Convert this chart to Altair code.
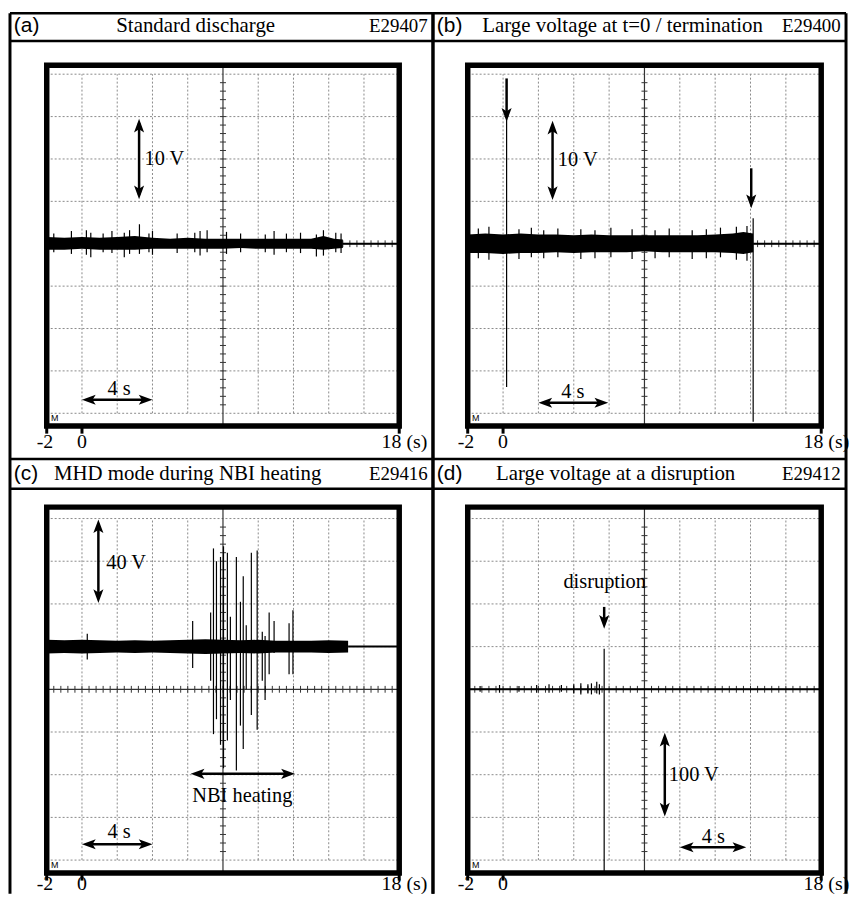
import altair as alt
import pandas as pd

SERIF = "Liberation Serif"
SANS = "Liberation Sans"

# ---------------- data: time in s, signal in V ----------------
# (a) Standard discharge, E29407, 5 V/div
A_VDIV = 5.0
A_BASE = 0.0
A_END = 14.8
A_BAND_T = [-2.0, -1.0, 0.0, 1.0, 2.0, 3.0, 4.0, 5.0, 6.0, 7.0, 8.0, 9.0, 10.0, 11.0, 12.0, 13.0, 13.7, 14.3, 14.8]
A_BAND_HI = [0.8, 0.7, 0.8, 0.7, 0.8, 0.9, 0.7, 0.6, 0.7, 0.6, 0.6, 0.6, 0.6, 0.6, 0.6, 0.6, 0.9, 0.6, 0.5]
A_BAND_LO = [-0.7, -0.7, -0.6, -0.7, -0.7, -0.7, -0.6, -0.6, -0.6, -0.6, -0.6, -0.5, -0.6, -0.6, -0.6, -0.6, -0.7, -0.6, -0.5]
A_SPK_T = [-1.6, -0.6, 0.25, 0.5, 1.2, 1.7, 2.4, 2.7, 3.26, 3.8, 4.0, 5.4, 6.4, 6.7, 7.1, 8.2, 9.0, 10.4, 10.9, 11.6, 12.4, 13.3, 13.7, 14.4, 14.7]
A_SPK_HI = [1.2, 1.5, 1.6, 1.3, 1.2, 1.5, 1.3, 1.6, 2.3, 1.2, 1.5, 1.2, 1.3, 1.5, 1.6, 1.4, 1.2, 1.1, 1.5, 1.2, 1.3, 1.1, 1.6, 1.3, 1.2]
A_SPK_LO = [-1.0, -1.2, -1.3, -1.6, -1.0, -1.1, -1.6, -1.2, -1.2, -1.0, -1.3, -1.1, -1.0, -1.4, -1.0, -1.2, -1.0, -1.0, -1.3, -1.0, -1.1, -1.5, -1.4, -1.0, -1.1]

# (b) Large voltage at t=0 / termination, E29400, 5 V/div
B_VDIV = 5.0
B_BASE = 0.0
B_END = 14.15
B_BAND_T = [-2.0, -1.0, 0.0, 1.0, 2.0, 3.0, 4.0, 5.0, 6.0, 7.0, 8.0, 9.0, 10.0, 11.0, 12.0, 13.0, 13.6, 14.15]
B_BAND_HI = [1.1, 1.2, 1.1, 1.2, 1.1, 1.1, 1.0, 1.1, 1.0, 1.0, 1.0, 1.0, 1.0, 1.0, 1.1, 1.2, 1.4, 1.2]
B_BAND_LO = [-1.1, -1.1, -1.2, -1.1, -1.1, -1.0, -1.1, -1.0, -1.0, -1.0, -0.9, -1.0, -1.0, -1.0, -1.0, -1.1, -1.2, -1.0]
B_SPK_T = [-1.4, -0.8, 0.2, 0.9, 1.6, 2.3, 3.1, 4.4, 5.2, 6.1, 7.3, 8.6, 9.4, 10.7, 11.5, 12.3, 13.2, 13.8, 14.15]
B_SPK_HI = [1.8, 2.0, 14.8, 1.7, 1.9, 1.6, 1.8, 1.7, 1.6, 1.9, 1.7, 1.6, 1.8, 1.6, 1.7, 1.9, 2.0, 2.1, 3.0]
B_SPK_LO = [-1.7, -1.9, -16.9, -1.8, -1.6, -1.7, -1.6, -1.8, -1.7, -1.6, -1.8, -1.7, -1.6, -1.8, -1.7, -1.6, -1.9, -2.0, -21.0]

# (c) MHD mode during NBI heating, E29416, 20 V/div (trace displayed 1 div up)
C_VDIV = 20.0
C_BASE = 20.0
C_END = 15.1
C_BAND_T = [-2.0, -1.0, 0.0, 1.0, 2.0, 3.0, 4.0, 5.0, 6.0, 7.0, 8.0, 9.0, 10.0, 11.0, 12.0, 13.0, 14.0, 15.1]
C_BAND_HI = [23.2, 23.0, 23.2, 23.0, 22.8, 23.0, 22.8, 23.0, 23.2, 23.4, 23.2, 23.0, 23.2, 22.8, 22.8, 22.8, 23.0, 22.8]
C_BAND_LO = [16.8, 17.0, 16.8, 17.0, 17.2, 17.0, 17.2, 17.0, 16.8, 16.6, 16.8, 17.0, 16.8, 17.2, 17.2, 17.2, 17.0, 17.2]
C_SPK_T = [0.3, 6.28, 7.30, 7.46, 7.63, 7.86, 8.03, 8.25, 8.42, 8.76, 8.99, 9.15, 9.32, 9.61, 9.94, 10.23, 10.39, 10.62, 10.90, 11.75, 11.97]
C_SPK_HI = [26, 32, 36, 66, 60, 62, 67, 64, 34, 62, 41, 53, 30, 64, 65, 27, 25, 36, 32, 31, 37]
C_SPK_LO = [14, 10, 4, -21, -14, -26, -37, -24, -5, -38, -17, -28, 0, -12, -19, 4, -5, 7, 17, 7, 7]

# (d) Large voltage at a disruption, E29412, 50 V/div
D_VDIV = 50.0
D_BASE = 0.0
D_END = -2.0
D_SPK_T = [-1.3, -0.2, 0.9, 1.9, 2.6, 3.3, 4.0, 4.4, 4.8, 5.0, 5.3, 5.45, 5.72]
D_SPK_HI = [4, 5, 4, 5, 6, 5, 6, 7, 6, 7, 9, 6, 47.5]
D_SPK_LO = [-3, -4, -3, -4, -4, -3, -5, -6, -5, -6, -5, -6, -215]

X_TICKS = [-2, 0, 18]
X_LABELS = ["-2", "0", "18 (s)"]

# ---------------- layout (scale domains per panel cell) ----------------
COLS = {
    0: dict(xmin=-4.085, xmax=19.915, w=426),
    1: dict(xmin=-3.966, xmax=19.404, w=416),
}
ROWS = {
    0: dict(ymin=-5.0775, ymax=5.4406, h=449, tline=4.785, ttext=5.136, ftop=4.21, fbot=-4.30, lab=-4.68),
    1: dict(ymin=-4.791, ymax=5.3953, h=438, tline=4.698, ttext=5.046, ftop=4.267, fbot=-4.30, lab=-4.56),
}

HEAD_UP = "M0,0L0.55,1.5L0,1.15L-0.55,1.5Z"
HEAD_DOWN = "M0,0L0.55,-1.5L0,-1.15L-0.55,-1.5Z"
HEAD_LEFT = "M0,0L1.5,-0.55L1.15,0L1.5,0.55Z"
HEAD_RIGHT = "M0,0L-1.5,-0.55L-1.15,0L-1.5,0.55Z"

PANELS = [
    dict(col=0, row=0, letter="(a)", title="Standard discharge", title_x=6.45, shot="E29407",
         vdiv=A_VDIV, base=A_BASE, end=A_END,
         band=(A_BAND_T, A_BAND_HI, A_BAND_LO), spikes=(A_SPK_T, A_SPK_HI, A_SPK_LO),
         varrows=[(3.24, 1.05, 2.95)], harrows=[(-3.68, 0.0, 4.0)], darrows=[],
         texts=[("10 V", 3.55, 1.99, "left"), ("4 s", 2.1, -3.42, "center")]),
    dict(col=1, row=0, letter="(b)", title="Large voltage at t=0 / termination", title_x=6.76, shot="E29400",
         vdiv=B_VDIV, base=B_BASE, end=B_END,
         band=(B_BAND_T, B_BAND_HI, B_BAND_LO), spikes=(B_SPK_T, B_SPK_HI, B_SPK_LO),
         varrows=[(2.80, 1.03, 2.9)], harrows=[(-3.75, 2.0, 5.95)],
         darrows=[(0.2, 3.9, 2.88), (14.04, 1.78, 0.84)],
         texts=[("10 V", 3.1, 1.97, "left"), ("4 s", 3.95, -3.5, "center")]),
    dict(col=0, row=1, letter="(c)", title="MHD mode during NBI heating", title_x=6.0, shot="E29416",
         vdiv=C_VDIV, base=C_BASE, end=C_END,
         band=(C_BAND_T, C_BAND_HI, C_BAND_LO), spikes=(C_SPK_T, C_SPK_HI, C_SPK_LO),
         varrows=[(0.93, 2.02, 3.98)], harrows=[(-1.98, 6.17, 12.08), (-3.63, 0.0, 4.0)], darrows=[],
         texts=[("40 V", 1.38, 2.95, "left"), ("NBI heating", 9.1, -2.51, "center"), ("4 s", 2.1, -3.35, "center")]),
    dict(col=1, row=1, letter="(d)", title="Large voltage at a disruption", title_x=6.37, shot="E29412",
         vdiv=D_VDIV, base=D_BASE, end=D_END,
         band=None, spikes=(D_SPK_T, D_SPK_HI, D_SPK_LO),
         varrows=[(9.15, -2.98, -1.02)], harrows=[(-3.7, 10.0, 13.76)], darrows=[(5.72, 1.93, 1.42)],
         texts=[("disruption", 5.75, 2.51, "center"), ("100 V", 9.38, -2.0, "left"), ("4 s", 11.9, -3.47, "center")]),
]


def make_panel(p):
    c, r = COLS[p["col"]], ROWS[p["row"]]
    xs = alt.Scale(domain=[c["xmin"], c["xmax"]], nice=False, zero=False)
    ys = alt.Scale(domain=[r["ymin"], r["ymax"]], nice=False, zero=False)

    def X(f):
        return alt.X(f, type="quantitative", scale=xs, axis=None)

    def Y(f):
        return alt.Y(f, type="quantitative", scale=ys, axis=None)

    def vrule(data, **mk):
        return alt.Chart(pd.DataFrame(data)).mark_rule(**mk).encode(
            x=X("x"), y=Y("y0"), y2=alt.Y2("y1"))

    def hrule(data, **mk):
        return alt.Chart(pd.DataFrame(data)).mark_rule(**mk).encode(
            y=Y("y"), x=X("x0"), x2=alt.X2("x1"))

    def heads(xx, yy, shape):
        return alt.Chart(pd.DataFrame({"x": xx, "y": yy})).mark_point(
            shape=shape, filled=True, size=340, color="black", opacity=1, strokeWidth=0
        ).encode(x=X("x"), y=Y("y"))

    def text(rows, font, size, align):
        return alt.Chart(pd.DataFrame(rows, columns=["s", "x", "y"])).mark_text(
            font=font, fontSize=size, align=align, baseline="middle", color="black"
        ).encode(x=X("x"), y=Y("y"), text=alt.Text("s:N"))

    vd = p["vdiv"]
    L = []
    grid = dict(color="#8a8a8a", strokeWidth=1, strokeDash=[2, 2])
    L.append(vrule({"x": [0.0, 2.0, 4.0, 6.0, 10.0, 12.0, 14.0, 16.0], "y0": -4.0, "y1": 4.0}, **grid))
    L.append(hrule({"y": [-4.0, -3.0, -2.0, -1.0, 1.0, 2.0, 3.0, 4.0], "x0": -2.0, "x1": 18.0}, **grid))
    # graticule centre lines with minor ticks
    L.append(vrule({"x": [8.0], "y0": [r["fbot"]], "y1": [r["ftop"]]}, color="#333", strokeWidth=1.2))
    L.append(hrule({"y": [0.0], "x0": [-2.0], "x1": [18.0]}, color="#333", strokeWidth=1.2))
    L.append(vrule({"x": [-2 + 0.4 * k for k in range(1, 50)], "y0": -0.08, "y1": 0.08}, color="#333", strokeWidth=1))
    L.append(hrule({"y": [-4 + 0.2 * k for k in range(1, 40)], "x0": 7.83, "x1": 8.17}, color="#333", strokeWidth=1))
    # scope frame
    L.append(alt.Chart(pd.DataFrame({"x0": [-2.0], "x1": [18.0], "y0": [r["fbot"]], "y1": [r["ftop"]]}))
             .mark_rect(fillOpacity=0, stroke="black", strokeWidth=5.5)
             .encode(x=X("x0"), x2=alt.X2("x1"), y=Y("y0"), y2=alt.Y2("y1")))
    # trace
    if p["band"] is not None:
        bt, bh, bl = p["band"]
        L.append(alt.Chart(pd.DataFrame({"t": bt, "hi": [v / vd for v in bh], "lo": [v / vd for v in bl]}))
                 .mark_area(color="black").encode(x=X("t"), y=Y("hi"), y2=alt.Y2("lo")))
    L.append(hrule({"y": [p["base"] / vd], "x0": [p["end"]], "x1": [18.0]}, color="black", strokeWidth=2))
    st, sh, sl = p["spikes"]
    L.append(vrule({"x": st, "y0": [v / vd for v in sl], "y1": [v / vd for v in sh]}, color="black", strokeWidth=1.2))
    # annotation arrows
    for (x, a, b) in p["varrows"]:
        L.append(vrule({"x": [x], "y0": [a + 0.1], "y1": [b - 0.1]}, color="black", strokeWidth=2.5))
        L.append(heads([x], [b], HEAD_UP))
        L.append(heads([x], [a], HEAD_DOWN))
    for (y, a, b) in p["harrows"]:
        L.append(hrule({"y": [y], "x0": [a + 0.3], "x1": [b - 0.3]}, color="black", strokeWidth=2.5))
        L.append(heads([a], [y], HEAD_LEFT))
        L.append(heads([b], [y], HEAD_RIGHT))
    for (x, tail, tip) in p["darrows"]:
        L.append(vrule({"x": [x], "y0": [tip + 0.1], "y1": [tail]}, color="black", strokeWidth=2.5))
        L.append(heads([x], [tip], HEAD_DOWN))
    for (s, x, y, al) in p["texts"]:
        L.append(text([(s, x, y)], SERIF, 20.5, al))
    # cell borders and title bar
    L.append(vrule({"x": [c["xmin"], c["xmax"]], "y0": r["ymin"], "y1": r["ymax"]}, color="black", strokeWidth=3))
    L.append(hrule({"y": [r["ymax"], r["tline"]], "x0": c["xmin"], "x1": c["xmax"]}, color="black", strokeWidth=2.5))
    L.append(text([(p["letter"], c["xmin"] + 0.22, r["ttext"])], SANS, 21, "left"))
    L.append(text([(p["title"], p["title_x"], r["ttext"])], SERIF, 21, "center"))
    L.append(text([(p["shot"], c["xmax"] - 0.3, r["ttext"])], SERIF, 19, "right"))
    # time axis marks
    L.append(vrule({"x": [float(v) for v in X_TICKS], "y0": r["fbot"] - 0.18, "y1": r["fbot"]}, color="black", strokeWidth=3))
    L.append(text([(X_LABELS[0], -2.1, r["lab"]), (X_LABELS[1], 0.0, r["lab"])], SERIF, 20, "center"))
    L.append(text([(X_LABELS[2], 17.0, r["lab"])], SERIF, 20, "left"))
    L.append(text([("M", -1.55, -4.12)], SANS, 9, "center"))
    return alt.layer(*L).properties(width=c["w"], height=r["h"])


panels = [make_panel(p) for p in PANELS]
chart = alt.concat(*panels, columns=2, spacing=0, bounds="flush").properties(
    padding=0, background="white"
).configure_view(stroke=None)

chart.save("out.html", embed_options={"renderer": "svg", "actions": False})
